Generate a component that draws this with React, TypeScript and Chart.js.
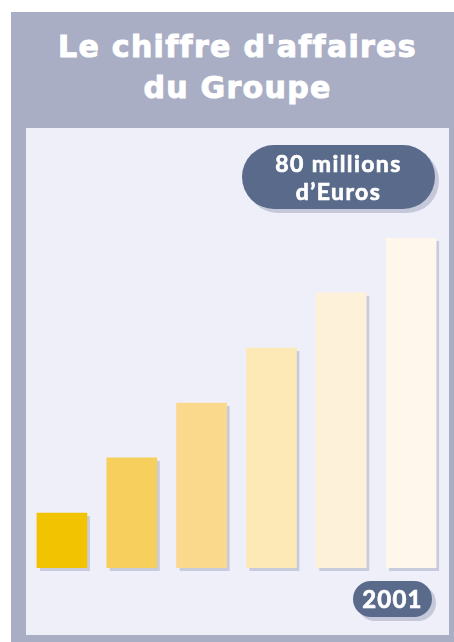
import React, { useEffect, useRef } from "react";
import { Chart, registerables } from "chart.js";

Chart.register(...registerables);

const years = ["1996", "1997", "1998", "1999", "2000", "2001"];
const revenue = [13.3, 26.7, 40, 53.3, 66.7, 80];
const barColors = ["#f2c300", "#f7cf5c", "#fad98d", "#fde9b6", "#fef1da", "#fff7ec"];
const titleLines = ["Le chiffre d'affaires", "du Groupe"];
const badgeLines = ["80 millions", "d\u2019Euros"];
const yearBadge = "2001";

const shadowPlugin = {
  id: "barShadow",
  beforeDatasetsDraw(chart: any) {
    const ctx = chart.ctx;
    const meta = chart.getDatasetMeta(0);
    ctx.save();
    ctx.fillStyle = "#c8cbdb";
    meta.data.forEach((el: any) => {
      const { x, y, base, width } = el.getProps(["x", "y", "base", "width"], true);
      ctx.fillRect(x - width / 2 + 3, y + 3, width, base - y);
    });
    ctx.restore();
  },
};

export default function App() {
  const ref = useRef<HTMLCanvasElement>(null);

  useEffect(() => {
    document.body.style.margin = "0";
    const chart = new Chart(ref.current!, {
      type: "bar",
      data: {
        labels: years,
        datasets: [
          {
            data: revenue,
            backgroundColor: barColors,
            borderWidth: 0,
            barThickness: 50,
          },
        ],
      },
      options: {
        responsive: false,
        animation: false,
        layout: { padding: { top: 110, bottom: 67, left: 1, right: 3 } },
        scales: {
          x: { display: false },
          y: { display: false, min: 0, max: 80 },
        },
        plugins: { legend: { display: false }, tooltip: { enabled: false } },
      },
      plugins: [shadowPlugin],
    });
    return () => chart.destroy();
  }, []);

  const pill: React.CSSProperties = {
    position: "absolute",
    background: "#5a6a8a",
    color: "#ffffff",
    fontFamily: "Lato, 'Open Sans', sans-serif",
    fontWeight: 700,
    WebkitTextStroke: "0.7px #ffffff",
    boxShadow: "4px 4px 0 #c5c8d9",
    display: "flex",
    flexDirection: "column",
    alignItems: "center",
    justifyContent: "center",
    textAlign: "center",
  };

  return (
    <div style={{ position: "relative", width: 454, height: 642, background: "#ffffff" }}>
      <div
        style={{
          position: "absolute",
          left: 11,
          top: 12,
          width: 443,
          height: 630,
          background: "#a9aec5",
        }}
      />
      <div
        style={{
          position: "absolute",
          left: 26,
          top: 26,
          width: 423,
          textAlign: "center",
          color: "#ffffff",
          fontFamily: "'DejaVu Sans', Verdana, sans-serif",
          fontWeight: 700,
          fontSize: 30,
          lineHeight: "41px",
          letterSpacing: "1.3px",
          WebkitTextStroke: "1px #ffffff",
        }}
      >
        {titleLines.map((l) => (
          <div key={l}>{l}</div>
        ))}
      </div>
      <div
        style={{
          position: "absolute",
          left: 26,
          top: 128,
          width: 423,
          height: 507,
          background: "#eeeff9",
        }}
      >
        <canvas ref={ref} width={423} height={507} style={{ display: "block" }} />
      </div>
      <div
        style={{
          ...pill,
          left: 242,
          top: 145,
          width: 193,
          height: 64,
          borderRadius: 32,
          fontSize: 23,
          lineHeight: "28px",
          letterSpacing: "1.4px",
        }}
      >
        {badgeLines.map((l) => (
          <div key={l}>{l}</div>
        ))}
      </div>
      <div
        style={{
          ...pill,
          left: 353,
          top: 581,
          width: 79,
          height: 36,
          borderRadius: 18,
          fontSize: 24,
          lineHeight: "36px",
          letterSpacing: "1.2px",
        }}
      >
        {yearBadge}
      </div>
    </div>
  );
}
